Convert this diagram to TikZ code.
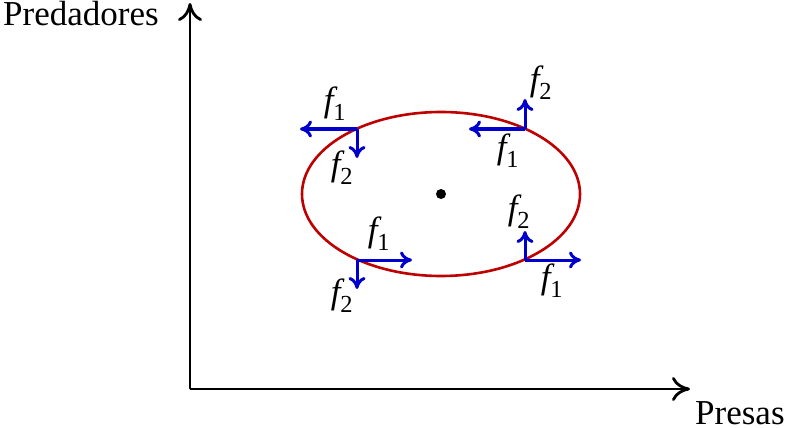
\documentclass[tikz,border=0pt]{standalone}
\usepackage{amsmath}
\usepackage{fontspec}
\setmainfont{Liberation Serif}
\usetikzlibrary{arrows.meta}
\definecolor{azulf}{RGB}{0,0,205}
\definecolor{rojoe}{RGB}{190,0,0}
\newcommand{\fsub}[1]{$\textit{f}_{\text{#1}}$}
\begin{document}
\begin{tikzpicture}
  [x=1pt,y=-1pt,
   every node/.style={inner sep=0pt,font=\fontsize{35}{40}\selectfont},
   eje/.style={line width=2.8pt,-{Computer Modern Rightarrow[length=18pt,width=24pt]}},
   campo/.style={azulf,line width=3pt,-{Computer Modern Rightarrow[length=12pt,width=17pt]}}]
  \useasboundingbox (0,0) rectangle (788,428);

  % Ejes
  \coordinate (o) at (190,389);
  \coordinate (ytop) at (190,3);
  \coordinate (xend) at (690,389);
  \draw[eje] (o) -- (ytop);
  \draw[eje] (o) -- (xend);
  \node[anchor=base west] (pred) at (3,26) {Predadores};
  \node[anchor=base west] (pres) at (695,424) {Presas};

  % Orbita y punto de equilibrio
  \draw[rojoe,line width=2.6pt] (441,194) ellipse [x radius=139,y radius=82];
  \fill (441,194) circle [radius=5];
  \coordinate (eq) at (441,194);

  % Puntos sobre la orbita
  \coordinate (p1) at (357,129);
  \coordinate (p2) at (525,129);
  \coordinate (p3) at (357,260);
  \coordinate (p4) at (525,260);

  % Campo en p1
  \coordinate (p1a) at (300,129);
  \coordinate (p1b) at (357,158);
  \draw[campo] (p1) -- (p1a);
  \draw[campo] (p1) -- (p1b);
  \node (f1a) at (335,104) {\fsub{1}};
  \node (f2a) at (342,168) {\fsub{2}};

  % Campo en p2
  \coordinate (p2a) at (469,129);
  \coordinate (p2b) at (525,99);
  \draw[campo] (p2) -- (p2a);
  \draw[campo] (p2) -- (p2b);
  \node (f1b) at (508,151) {\fsub{1}};
  \node (f2b) at (541,83) {\fsub{2}};

  % Campo en p3
  \coordinate (p3a) at (412,260);
  \coordinate (p3b) at (357,289);
  \draw[campo] (p3) -- (p3a);
  \draw[campo] (p3) -- (p3b);
  \node (f1c) at (379,234) {\fsub{1}};
  \node (f2c) at (342,296) {\fsub{2}};

  % Campo en p4
  \coordinate (p4a) at (581,260);
  \coordinate (p4b) at (525,231);
  \draw[campo] (p4) -- (p4a);
  \draw[campo] (p4) -- (p4b);
  \node (f2d) at (519,212) {\fsub{2}};
  \node (f1d) at (552,281) {\fsub{1}};
\end{tikzpicture}
\end{document}
